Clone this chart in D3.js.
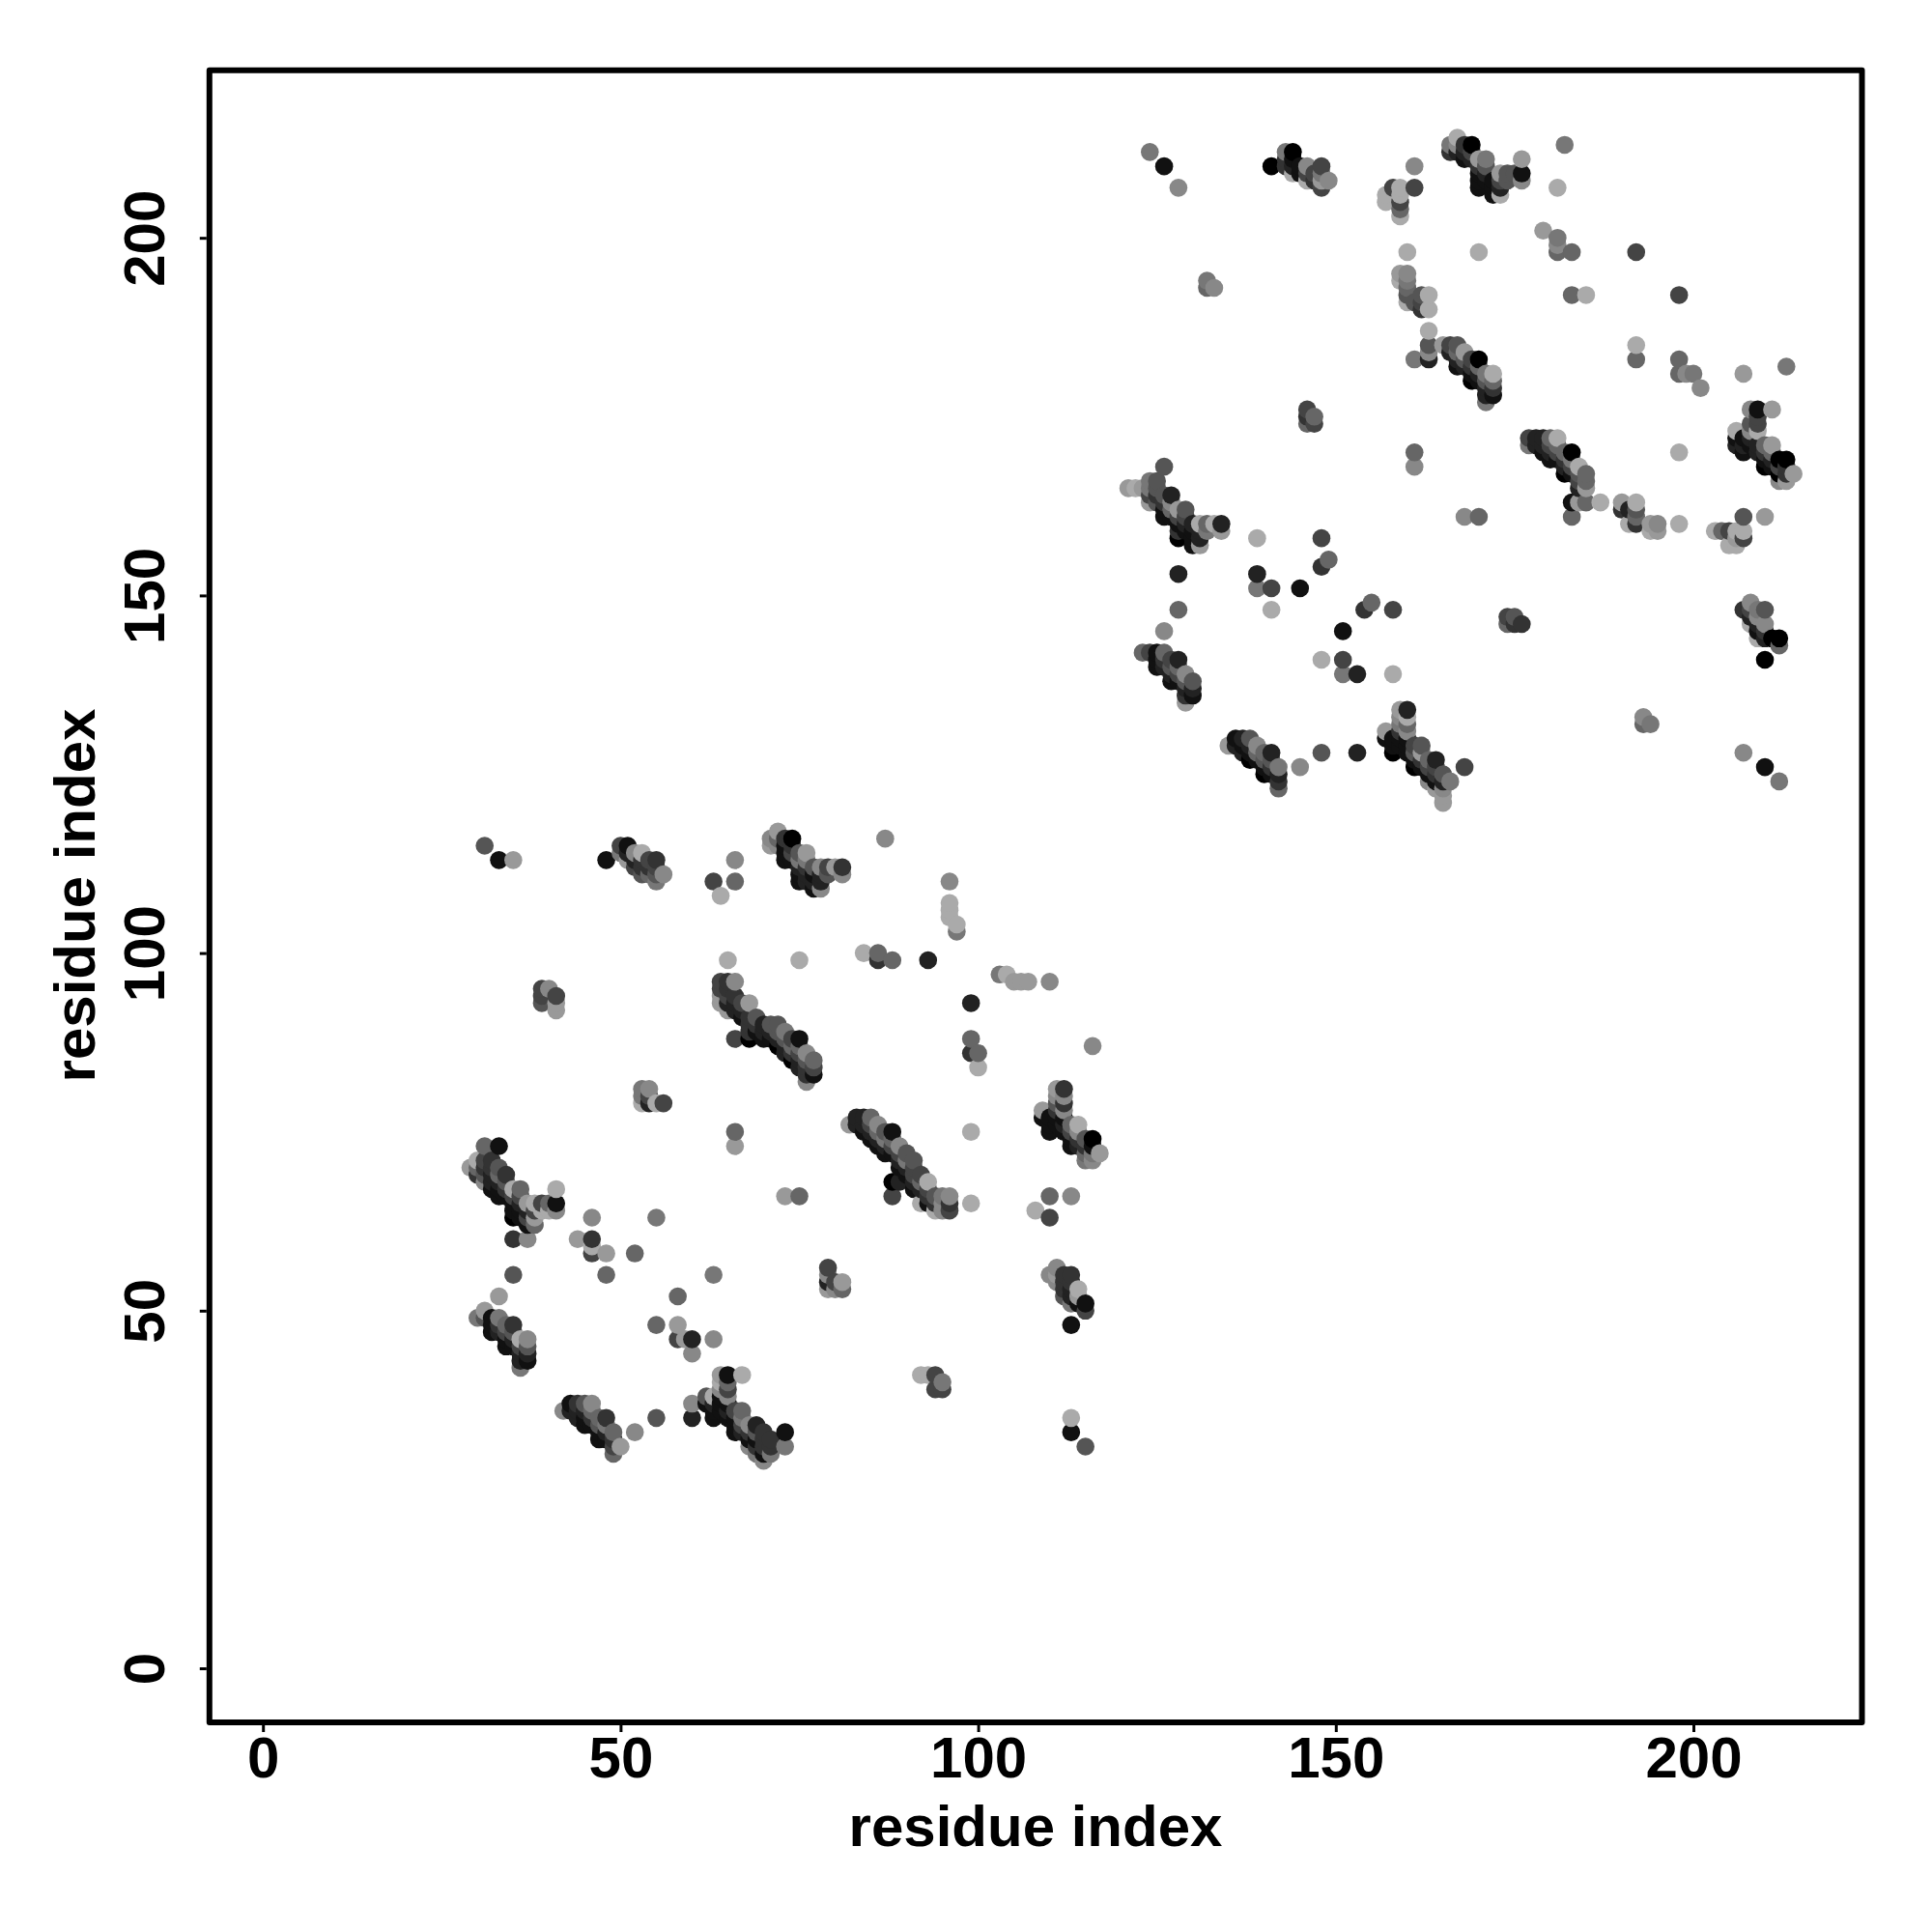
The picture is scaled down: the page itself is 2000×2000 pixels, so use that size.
<!DOCTYPE html>
<html><head><meta charset="utf-8">
<script src="https://cdn.jsdelivr.net/npm/d3@7"></script>
<style>html,body{margin:0;background:#fff}svg{display:block}</style></head>
<body><svg id="c" width="2000" height="2000"></svg>
<script>
// Each row: residue i, then pairs of residue j and darkness level (0 light .. 10 black)
const blockTopA=[[71,116,2,115,1],[72,117,1,116,4,115,2],[73,116,7,115,9,114,9,113,9],[74,116,10,115,7,114,6,113,9],[75,114,5,113,3,112,8,111,9,110,9],[76,114,1,113,3,112,7,111,8,110,8],[77,112,5,111,9,110,8,109,9],[78,112,2,111,8,110,8,109,2],[79,112,6,111,5],[80,112,1],[81,112,7,111,2]];
const blockTopB=[[50,115,6,114,3],[51,115,9,114,8,113,1],[52,114,2,113,8,112,6],[53,114,0,113,7,112,7,111,5],[54,113,6,112,7,111,4],[55,113,7,112,6,111,5,110,3],[56,111,2]];
const bandA=[[29,70,1],[30,71,0,70,4,69,7],[31,73,4,71,6,70,7,69,5,68,2],[32,71,7,70,7,69,8,68,8,67,9],[33,73,9,70,5,69,4,68,8,67,9,66,9],[34,69,7,68,5,67,7,66,9],[35,67,0,66,6,65,9,64,9,63,10,60,7,55,5],[36,67,4,66,6,65,8,64,9,63,9],[37,65,1,64,8,63,6,62,9,60,2],[38,65,0,64,6,63,1,62,4],[39,65,6,64,0],[40,65,4,64,0],[41,67,0,65,9,64,2]];
const bandB=[[30,49,3],[31,50,1,49,5],[32,49,9,48,9,47,9],[33,49,3,48,7,47,8],[34,48,4,47,6,46,9,45,9],[35,48,7,47,5,46,8,45,9],[36,46,0,45,6,44,8,43,8,42,3],[37,46,2,45,5,44,8,43,9]];
const bandC=[[42,36,2],[43,37,9,36,8],[44,37,7,36,8,35,8],[45,37,5,36,8,35,9,34,9],[46,37,2,36,4,35,7,34,9],[47,35,4,34,5,33,9,32,9],[48,35,7,34,3,33,8,32,9],[49,33,4,32,7,31,6,30,4],[50,31,1]];
const bandD=[[62,38,5,37,9],[63,38,0,37,8,36,9,35,9],[64,41,1,40,0,39,2,38,9,37,9,36,9],[65,41,9,40,4,39,6,38,2,37,9,36,8,35,9],[66,36,6,35,9,34,9,33,9],[67,41,0,36,4,35,3,34,6,33,8],[68,34,2,33,7,32,9,31,2],[69,34,8,33,5,32,9,31,7,30,3],[70,33,7,32,7,31,7,30,9,29,2],[71,32,7,31,7,30,3]];
const bandE=[[64,96,6,95,6,94,1,93,1],[65,96,7,95,7,94,6,93,8,92,1],[66,96,2,94,7,93,8,92,8,88,6],[67,93,6,92,8,91,9],[68,93,1,91,7,90,7,89,7,88,10],[69,91,5,90,7,89,9],[70,90,8,89,8,88,9],[71,90,5,89,8,88,9],[72,90,5,89,5,88,8,87,10],[73,89,3,88,5,87,8,86,8],[74,88,6,87,4,86,7,85,10],[75,88,9,87,4,86,6,85,8,84,8],[76,86,2,85,5,84,7,83,7,82,2],[77,85,4,84,6,83,9]];
const bandF=[[82,76,1],[83,77,8,76,8],[84,77,8,76,8,75,9],[85,77,4,76,6,75,8,74,9],[86,76,2,75,4,74,8,73,9],[87,75,5,74,3,73,8,72,9],[88,75,9,74,4,73,6,72,9,68,10,66,6],[89,73,2,72,6,71,8,70,9,68,8],[90,72,5,71,3,70,8,69,9],[91,71,5,70,6,69,6,68,8,67,9],[92,69,6,68,4,67,8,65,0],[93,68,0,67,6,66,7,65,9],[94,66,5,65,7,64,0],[95,66,3,65,2,64,2],[96,66,2,65,7,64,6]];
const bandG=[[109,78,1,77,9],[110,77,9,76,9,75,9],[111,81,1,80,2,79,5,78,7,77,9,76,9],[112,81,7,80,2,79,7,78,2,77,9,76,8,75,9],[113,76,4,75,6,74,9,73,9],[114,76,0,75,2,74,7,73,8],[115,74,5,73,7,72,4,71,3],[116,74,10,73,9,72,3,71,2],[117,72,1]];
const bandH=[[121,165,1],[122,165,0],[123,165,1],[124,166,3,165,3,164,6,163,1],[125,166,5,165,5,164,7,163,5],[126,168,5,164,5,163,7,162,9,161,9],[127,164,8,163,2,162,4,161,9],[128,162,1,161,6,160,9,159,7,158,10,153,8,148,4],[129,162,5,161,6,160,8,159,9],[130,160,8,159,9,158,9,157,9],[131,160,0,159,8,158,8,157,1],[132,160,4,159,3],[133,160,0],[134,160,8,159,1]];
const bandI=[[123,142,4],[124,142,6],[125,142,9,141,9,140,9],[126,142,4,141,7,140,8],[127,141,6,140,5,139,8,138,9],[128,141,8,140,4,139,6,138,9],[129,139,2,138,5,137,8,136,7,135,1],[130,138,5,137,8,136,9]];
const bandJ=[[135,129,1],[136,130,9,129,8],[137,130,8,129,9,128,8],[138,130,5,129,8,128,9,127,10],[139,129,2,128,4,127,9],[140,128,4,127,5,126,9,125,10],[141,128,8,127,5,126,7,125,9],[142,126,3,125,8,124,7,123,4]];
const bandK=[[157,131,1,130,9],[158,130,9,129,9,128,10],[159,134,1,133,2,132,3,131,7,130,9,129,9],[160,134,8,133,0,132,4,131,2,130,9,129,9,128,9],[161,129,6,128,5,127,9,126,10],[162,129,5,128,1,127,7,126,9],[163,127,4,126,6,125,9,124,2],[164,127,8,126,6,125,7,124,9,123,1],[165,125,5,124,8,123,2,122,1,121,1],[166,124,3]];
const bandL=[[143,212,3,211,7,210,7],[144,212,10,211,9,210,8,209,0],[145,210,9,209,9],[146,210,2,209,6,208,0],[147,209,6,208,7],[148,210,6,209,3,208,1,207,6],[149,208,2]];
const bandM=[[166,213,3,212,7],[167,214,0,213,2,212,8],[168,213,7,212,8,211,9],[169,213,10,212,6,211,8],[170,211,1,210,7,209,9,208,9,207,9],[171,211,3,210,5,209,8,208,9],[172,208,9,207,9,206,9],[173,209,1,208,6,207,8,206,0],[174,209,5,208,5],[175,209,5],[176,211,1,209,9,208,2]];
const bandN=[[165,185,1],[166,185,6,184,8],[167,185,5,184,4,183,8,182,9],[168,184,1,183,5,182,8],[169,183,6,182,7,181,9,180,10],[170,183,10,182,4,181,8,180,9],[171,181,3,180,5,179,8,178,8,177,3],[172,181,0,180,4,179,7,178,9]];
const bandO=[[177,172,6,171,3],[178,172,8,171,8],[179,172,8,171,8,170,9],[180,172,4,171,6,170,8,169,9],[181,172,0,171,4,170,6,169,9],[182,170,4,169,7,168,8,167,10],[183,170,10,169,3,168,6,167,9,163,9,161,4],[184,168,0,167,5,166,6,165,8,163,1],[185,167,4,166,4,165,1,163,4],[187,163,0]];
const bandP=[[206,173,0,172,9,171,8],[207,172,9,171,8,170,9],[208,176,2,174,5,173,2,172,8,171,9],[209,176,9,175,6,174,6,173,0,171,8,170,8],[210,171,4,170,7,169,9,168,10],[211,176,1,171,1,170,4,169,8,168,9],[212,169,10,168,6,167,10,166,2],[213,182,3,169,10,168,7,167,7,166,1],[214,167,1]];
const bandQ=[[207,148,7],[208,149,2,148,6,147,8,146,0],[209,148,3,147,2,146,8,145,9,144,0],[210,148,5,146,2,145,7,144,8,141,10],[211,144,10],[212,144,10,143,4]];
const isolatedLow=[[31,115,5],[33,113,9],[35,113,1],[48,113,9],[66,113,2],[66,110,4],[63,110,6],[64,108,0],[39,95,6],[39,94,6],[39,93,5],[40,95,2],[41,94,6],[41,93,1],[41,92,1],[65,99,0],[87,116,2],[96,110,2],[96,107,0],[96,106,0],[96,105,0],[97,104,0],[97,103,3],[75,99,0],[84,100,0],[86,100,4],[86,99,7],[88,99,4],[93,99,8],[103,97,3],[104,97,0],[105,96,1],[106,96,1],[107,96,1],[110,96,2],[99,93,8],[99,88,4],[99,86,7],[100,86,4],[100,84,0],[116,87,2],[99,75,0],[99,65,0],[53,81,3],[54,81,2],[53,80,3],[54,80,6],[53,79,0],[54,79,8],[55,79,0],[56,79,6],[66,75,4],[66,73,1],[73,66,1],[75,66,4],[110,66,4],[113,66,2],[108,64,0],[110,63,6],[46,63,2],[55,63,3],[44,60,1],[46,60,7],[46,59,0],[46,58,6],[48,58,1],[52,58,4],[48,55,4],[63,55,3],[33,52,1],[58,52,4],[55,48,4],[58,48,1],[58,46,6],[59,46,1],[60,46,8],[63,46,2],[60,44,2],[79,56,6],[79,55,2],[79,54,8],[79,53,1],[80,54,6],[80,53,2],[81,54,1],[81,53,4],[110,55,2],[111,56,2],[111,55,1],[111,54,2],[112,55,7],[113,55,7],[112,54,7],[112,53,7],[113,54,7],[113,53,8],[114,53,0],[112,52,5],[113,52,8],[114,52,1],[113,51,3],[114,51,9],[115,51,9],[115,50,6],[113,48,9],[60,37,2],[60,35,8],[55,35,5],[52,33,2],[92,41,0],[93,41,0],[94,41,6],[95,40,3],[94,39,6],[95,39,6],[113,35,0],[113,33,9],[115,31,5],[73,33,9],[73,31,3]];
const isolatedHigh=[[124,212,3],[126,210,9],[128,207,2],[141,210,10],[161,210,2],[161,207,6],[158,207,6],[159,207,0],[157,206,0],[157,205,0],[159,206,0],[159,205,6],[159,204,4],[159,203,0],[132,194,3],[132,193,4],[133,193,2],[160,198,0],[159,195,1],[160,195,2],[159,194,0],[160,194,3],[160,193,4],[160,192,5],[160,191,0],[161,191,5],[162,192,5],[163,192,0],[162,191,6],[163,190,0],[162,190,7],[163,187,0],[163,185,5],[163,184,2],[161,183,3],[163,183,8],[146,176,6],[146,175,7],[146,174,4],[147,175,4],[147,174,6],[161,170,4],[161,168,2],[182,213,3],[181,207,0],[179,201,1],[181,200,3],[181,199,2],[181,198,4],[183,198,4],[192,198,6],[183,192,4],[185,192,0],[198,192,6],[170,198,0],[192,185,0],[192,183,4],[198,183,4],[198,181,4],[199,181,2],[200,181,3],[201,179,2],[207,181,1],[198,170,0],[139,158,0],[148,158,6],[149,155,4],[148,154,7],[139,153,8],[139,151,3],[141,151,6],[145,151,9],[141,148,0],[155,149,4],[154,148,7],[158,148,6],[126,145,2],[151,145,9],[148,141,0],[151,141,6],[151,139,3],[153,139,8],[158,139,0],[148,128,5],[153,128,8],[145,126,2],[168,161,2],[170,161,4],[168,126,6],[190,163,1],[192,163,0],[190,162,7],[191,162,8],[192,162,5],[192,161,4],[191,160,0],[192,160,7],[198,160,0],[194,160,1],[195,160,2],[194,159,0],[195,159,1],[207,161,5],[210,161,1],[203,159,0],[204,159,4],[205,159,6],[206,159,0],[207,159,0],[207,158,6],[206,158,1],[205,157,0],[206,157,0],[174,147,6],[175,147,5],[174,146,4],[175,146,7],[176,146,7],[193,133,2],[193,132,4],[194,132,3],[207,128,2],[210,126,9],[212,124,3]];
const xTickValues=[0,50,100,150,200];
const yTickValues=[0,50,100,150,200];
const xLabel="residue index", yLabel="residue index";

const rows=[blockTopA,blockTopB,bandA,bandB,bandC,bandD,bandE,bandF,bandG,bandH,bandI,bandJ,bandK,bandL,bandM,bandN,bandO,bandP,bandQ];
const contacts=[];
rows.forEach(b=>b.forEach(r=>{for(let k=1;k<r.length;k+=2)contacts.push({i:r[0],j:r[k],d:r[k+1]});}));
isolatedLow.concat(isolatedHigh).forEach(r=>contacts.push({i:r[0],j:r[1],d:r[2]}));
contacts.sort((a,b)=>d3.ascending(a.i,b.i)||d3.ascending(a.j,b.j));

const frame={l:216.8,r:1927.5,t:72.7,b:1783};
const x=d3.scaleLinear().domain([0,200]).range([272.2,1753]);
const y=d3.scaleLinear().domain([0,200]).range([1727,246.2]);
const shade=d3.scaleLinear().domain([0,10]).range(["#aaaaaa","#000000"]);
const svg=d3.select("#c");
const font="'Liberation Sans',Arial,sans-serif";

svg.append("g").selectAll("circle").data(contacts).join("circle")
  .attr("cx",d=>x(d.i)).attr("cy",d=>y(d.j)).attr("r",9.3).attr("fill",d=>shade(d.d));

svg.append("rect").attr("x",frame.l).attr("y",frame.t).attr("width",frame.r-frame.l).attr("height",frame.b-frame.t)
  .attr("fill","none").attr("stroke","#000").attr("stroke-width",6).attr("stroke-linejoin","round");

const ax=svg.append("g").attr("transform",`translate(0,${frame.b+3})`)
  .call(d3.axisBottom(x).tickValues(xTickValues).tickSize(7).tickPadding(9).tickFormat(d3.format("d")));
const ay=svg.append("g").attr("transform",`translate(${frame.l-3},0)`)
  .call(d3.axisLeft(y).tickValues(yTickValues).tickSize(7).tickFormat(d3.format("d")));
ax.select(".domain").remove(); ay.select(".domain").remove();
svg.selectAll(".tick line").attr("stroke","#000").attr("stroke-width",3);
ax.selectAll("text").attr("font-family",font).attr("font-weight","700").attr("font-size",60).attr("fill","#000")
  .attr("y",null).attr("dy",null).attr("text-anchor","middle").attr("transform","translate(0,54)");
ay.selectAll("text").attr("font-family",font).attr("font-weight","700").attr("font-size",60).attr("fill","#000")
  .attr("x",null).attr("dy",null).attr("text-anchor","middle").attr("transform",`translate(${170-frame.l+3},0) rotate(-90)`);

svg.append("text").attr("x",1072).attr("y",1911).attr("text-anchor","middle")
  .attr("font-family",font).attr("font-weight","700").attr("font-size",60).text(xLabel);
svg.append("text").attr("transform","translate(98,927) rotate(-90)").attr("text-anchor","middle")
  .attr("font-family",font).attr("font-weight","700").attr("font-size",60).text(yLabel);
</script></body></html>
